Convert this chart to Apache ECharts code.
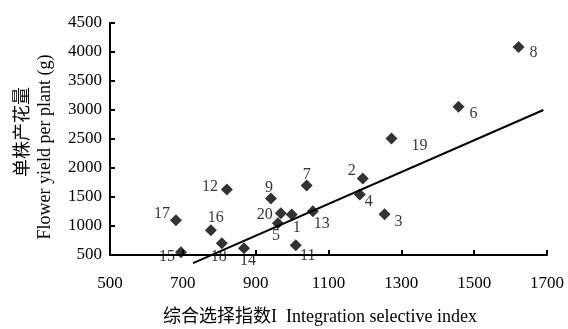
<!DOCTYPE html>
<html>
<head>
<meta charset="utf-8">
<script src="https://cdn.jsdelivr.net/npm/echarts@6/dist/echarts.min.js"></script>
<style>html,body{margin:0;padding:0;background:#fff}#c{width:568px;height:329px}</style>
</head>
<body>
<div id="c"></div>
<script>
var labels = ['1','2','3','4','5','6','7','8','9','11','12','13','14','15','16','17','18','19','20'];
var xVals = [999, 1194, 1254, 1186, 961, 1457, 1040, 1622, 942, 1010, 821, 1057, 868, 695, 777, 681, 807, 1273, 969];
var yVals = [1200, 1820, 1201, 1545, 1046, 3057, 1699, 4085, 1476, 668, 1631, 1253, 617, 548, 926, 1098, 703, 2507, 1218];
var labelOffsets = [[5,13],[-11,-8],[14,7],[9,7],[-2,12],[15,7],[0,-11],[15,6],[-2,-11],[12,11],[-17,-3],[9,12],[4,13],[-14,5],[5,-12],[-14,-7],[-3,14],[28,7],[-16,1]];
var trendX = [728, 1690];
var trendY = [359, 3000];
var xTicks = [500, 700, 900, 1100, 1300, 1500, 1700];
var yTicks = [500, 1000, 1500, 2000, 2500, 3000, 3500, 4000, 4500];

var serif = "'Liberation Serif', 'Noto Sans CJK SC', serif";
var pts = xVals.map(function(x, i){
  return {
    value: [x, yVals[i]],
    label: {show: true, formatter: labels[i], position: 'inside', offset: labelOffsets[i],
            color: '#000', fontSize: 16, fontFamily: serif}
  };
});

var chart = echarts.init(document.getElementById('c'), null, {renderer: 'canvas'});
chart.setOption({
  animation: false,
  backgroundColor: '#fff',
  grid: {left: 110, right: 21, top: 23, bottom: 74, containLabel: false},
  xAxis: {
    type: 'value', min: xTicks[0], max: xTicks[xTicks.length-1], interval: xTicks[1]-xTicks[0],
    axisLine: {lineStyle: {color: '#000', width: 2}},
    axisTick: {inside: true, length: 5, lineStyle: {color: '#000', width: 2}},
    axisLabel: {color: '#000', fontSize: 17, fontFamily: serif, margin: 20, formatter: function(v){return String(v);}},
    splitLine: {show: false}
  },
  yAxis: {
    type: 'value', min: yTicks[0], max: yTicks[yTicks.length-1], interval: yTicks[1]-yTicks[0],
    axisLine: {show: true, lineStyle: {color: '#000', width: 2}},
    axisTick: {show: true, inside: true, length: 5, lineStyle: {color: '#000', width: 2}},
    axisLabel: {color: '#000', fontSize: 17, fontFamily: serif, margin: 8, formatter: function(v){return String(v);}},
    splitLine: {show: false}
  },
  graphic: [
    {type: 'text', x: 21, y: 132, rotation: Math.PI/2, style: {text: '单株产花量', fill: '#000', font: "18px 'Noto Sans CJK SC'", textAlign: 'center', textVerticalAlign: 'middle'}},
    {type: 'text', x: 45, y: 147, rotation: Math.PI/2, style: {text: 'Flower yield per plant (g)', fill: '#000', font: "18px 'Liberation Serif'", textAlign: 'center', textVerticalAlign: 'middle'}},
    {type: 'text', x: 320, y: 317, style: {text: '综合选择指数I  Integration selective index', fill: '#000', font: "18px 'Liberation Serif', 'Noto Sans CJK SC'", textAlign: 'center', textVerticalAlign: 'middle'}}
  ],
  series: [
    {
      type: 'line', data: [[trendX[0], trendY[0]], [trendX[1], trendY[1]]],
      showSymbol: false, clip: false, lineStyle: {color: '#000', width: 2}, z: 1
    },
    {
      type: 'scatter', data: pts, symbol: 'diamond', symbolSize: 12,
      itemStyle: {color: '#000'}, z: 3
    }
  ]
});
</script>
</body>
</html>
